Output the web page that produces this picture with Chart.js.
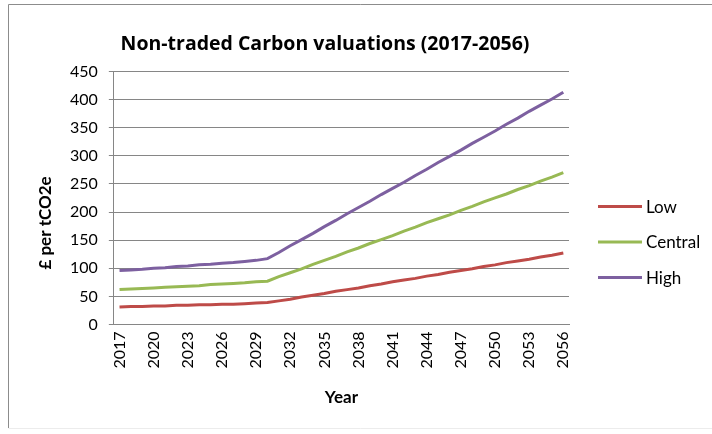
<!DOCTYPE html>
<html>
<head>
<meta charset="utf-8">
<script src="https://cdn.jsdelivr.net/npm/chart.js"></script>
<style>
html,body{margin:0;padding:0;background:#fff;}
#wrap{width:712px;height:434px;}
</style>
</head>
<body>
<div id="wrap"><canvas id="carbonChart"></canvas></div>
<script>
// Years 2017-2056
const years = [];
for (let y = 2017; y <= 2056; y++) years.push(String(y));

// £ per tCO2e
const low = [31,32,32,33,33,34,34,35,35,36,36,37,38,39,
42,45,49,52,55,59,62,65,69,72,76,79,82,86,89,93,96,99,103,106,110,113,116,120,123,127];
const central = [62,63,64,65,66,67,68,69,71,72,73,74,76,77,
85,92,99,107,114,121,129,136,144,151,158,166,173,181,188,195,203,210,218,225,232,240,247,255,262,270];
const high = [96,97,98,100,101,103,104,106,107,109,110,112,114,117,
128,140,151,162,174,185,197,208,219,231,242,253,265,276,288,299,310,322,333,344,356,367,379,390,401,413];

const seriesNames = ["Low","Central","High"];
const seriesColors = ["#BE4B48","#98B954","#7D60A0"];
const yTicks = [0,50,100,150,200,250,300,350,400,450];

const FONT = "Lato, 'Open Sans', sans-serif";

// frame round the chart
const framePlugin = {
  id: "frame",
  afterLayout(chart){
    // nudge the title a bit right, as in the Excel original
    const t = chart.titleBlock;
    if (t) { t.left += 11; t.right += 11; }
  },
  beforeDraw(chart){
    const c = chart.ctx;
    c.save();
    c.strokeStyle = "#8c8c8c";
    c.lineWidth = 1;
    c.beginPath();
    c.moveTo(8.5, 428); c.lineTo(8.5, 4.5); c.lineTo(712, 4.5);
    c.stroke();
    c.strokeStyle = "#ececec";
    c.beginPath();
    c.moveTo(8.5, 428.5); c.lineTo(712, 428.5);
    c.stroke();
    c.restore();
  }
};

// y axis title and legend, Excel style
const sidePlugin = {
  id: "side",
  afterDraw(chart){
    const c = chart.ctx, a = chart.chartArea;
    c.save();
    c.fillStyle = "#000";
    c.font = "bold 17px " + FONT;
    c.textAlign = "center";
    c.textBaseline = "middle";
    c.translate(a.left - 68, (a.top + a.bottom) / 2 + 25);
    c.rotate(-Math.PI / 2);
    c.fillText("£ per tCO2e", 0, 0);
    c.restore();

    c.save();
    c.font = "17px " + FONT;
    c.textBaseline = "middle";
    c.textAlign = "left";
    const x0 = a.right + 29;
    const yMid = (a.top + a.bottom) / 2 + 44;
    chart.data.datasets.forEach((ds, i) => {
      const y = yMid + (i - 1) * 35.5;
      c.strokeStyle = ds.borderColor;
      c.lineWidth = 3;
      c.beginPath();
      c.moveTo(x0, y); c.lineTo(x0 + 44, y);
      c.stroke();
      c.fillStyle = "#000";
      c.fillText(ds.label, x0 + 48, y + 1);
    });
    c.restore();
  }
};

new Chart(document.getElementById("carbonChart"), {
  type: "line",
  data: {
    labels: years,
    datasets: [low, central, high].map((d, i) => ({
      label: seriesNames[i],
      data: d,
      borderColor: seriesColors[i],
      backgroundColor: seriesColors[i],
      borderWidth: 3,
      pointRadius: 0,
      tension: 0
    }))
  },
  options: {
    responsive: true,
    maintainAspectRatio: false,
    animation: false,
    layout: { padding: { left: 59, right: 143, top: 0, bottom: 0 } },
    plugins: {
      legend: { display: false },
      tooltip: { enabled: false },
      title: {
        display: true,
        text: "Non-traded Carbon valuations (2017-2056)",
        color: "#000",
        font: { family: "'Open Sans', Lato, sans-serif", size: 19.5, weight: "bold" },
        padding: { top: 33, bottom: 15 }
      }
    },
    scales: {
      x: {
        offset: true,
        grid: { display: true, drawOnChartArea: false, drawTicks: false },
        border: { color: "#868686" },
        ticks: {
          autoSkip: false,
          maxRotation: 90,
          minRotation: 90,
          padding: 7,
          color: "#000",
          font: { family: FONT, size: 16 },
          callback: function(v, i){ return i % 3 === 0 ? years[i] : ""; }
        },
        title: {
          display: true,
          text: "Year",
          color: "#000",
          font: { family: FONT, size: 17, weight: "bold" },
          padding: { top: 12, bottom: 26 }
        }
      },
      y: {
        min: 0,
        max: 450,
        afterBuildTicks: s => { s.ticks = yTicks.map(v => ({ value: v })); },
        grid: { color: "#868686", tickLength: 5 },
        border: { color: "#868686" },
        ticks: {
          padding: 11,
          color: "#000",
          font: { family: FONT, size: 16 }
        }
      }
    }
  },
  plugins: [framePlugin, sidePlugin]
});
</script>
</body>
</html>
